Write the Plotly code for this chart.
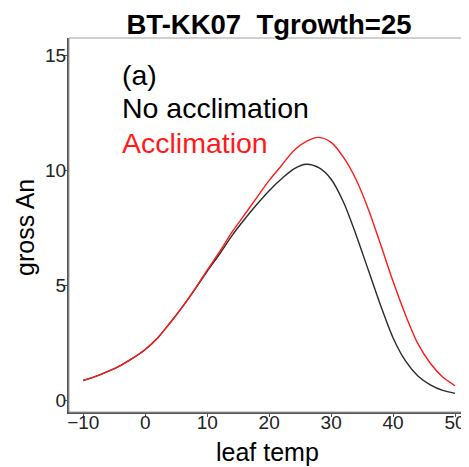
import plotly.graph_objects as go

leaf_temp = [-10, -8, -6, -4, -2, 0, 2, 4, 6, 8, 10, 12, 14, 16, 18, 20, 22, 24, 26, 28,
             30, 32, 34, 36, 38, 40, 42, 44, 46, 48, 50]
no_acclimation = [0.85, 1.03, 1.25, 1.5, 1.82, 2.2, 2.7, 3.35, 4.05, 4.8, 5.6, 6.35, 7.15,
                  7.85, 8.5, 9.1, 9.62, 10.05, 10.25, 10.1, 9.6, 8.6, 7.2, 5.65, 4.1, 2.7,
                  1.7, 1.05, 0.66, 0.42, 0.29]
acclimation = [0.85, 1.03, 1.25, 1.5, 1.82, 2.2, 2.7, 3.35, 4.05, 4.82, 5.65, 6.45, 7.3,
               8.05, 8.8, 9.55, 10.2, 10.85, 11.25, 11.42, 11.2, 10.55, 9.6, 8.3, 6.75,
               5.15, 3.7, 2.45, 1.6, 1.0, 0.62]
x_ticks = [-10, 0, 10, 20, 30, 40, 50]
y_ticks = [0, 5, 10, 15]

FONT = "Liberation Sans, Arial, sans-serif"
OFF = 8  # page body margin
W, H = 469 - OFF, 467 - OFF
# plot box in page pixels -> figure pixels
L, R, T, B = 69 - OFF, 465 - OFF, 38 - OFF, 412 - OFF


def px(xp):
    return (xp - OFF - L) / (R - L)


def py(yp):
    return (B - (yp - OFF)) / (B - T)


fig = go.Figure()
fig.add_trace(go.Scatter(x=leaf_temp, y=no_acclimation, mode="lines",
                         line=dict(color="#2a2a2a", width=1.4, shape="spline", smoothing=0.8)))
fig.add_trace(go.Scatter(x=leaf_temp, y=acclimation, mode="lines",
                         line=dict(color="#ff1a1a", width=1.4, shape="spline", smoothing=0.8)))

fig.add_shape(type="rect", xref="paper", yref="paper", x0=0, y0=0, x1=1, y1=1,
              line=dict(color="#a0a0a0", width=1))

fig.update_layout(
    width=W, height=H,
    margin=dict(l=L, r=W - R, t=T, b=H - B, autoexpand=False),
    paper_bgcolor="white", plot_bgcolor="white",
    showlegend=False,
    font=dict(family=FONT, color="black"),
    title=dict(text="<b>BT-KK07\u00a0 Tgrowth=25</b>", x=(269 - OFF) / W, xanchor="center",
               y=1 - (24 - OFF) / H, yanchor="middle", font=dict(size=27.5, family=FONT)),
    xaxis=dict(range=[-12.3, 51.6], tickvals=x_ticks, showgrid=False, zeroline=False,
               showline=True, linecolor="#555555", linewidth=2, automargin=False,
               ticks="outside", ticklen=3, tickcolor="#555555", ticklabelstandoff=-11,
               tickfont=dict(size=19, color="#222222")),
    yaxis=dict(range=[-0.52, 15.74], tickvals=y_ticks, showgrid=False, zeroline=False,
               showline=True, linecolor="#555555", linewidth=2, automargin=False,
               ticks="outside", ticklen=3, tickcolor="#555555", ticklabelstandoff=-6,
               tickfont=dict(size=19, color="#222222")),
)

# axis titles
fig.add_annotation(text="leaf temp", xref="paper", yref="paper",
                   x=0.5, y=py(452), xanchor="center", yanchor="middle",
                   showarrow=False, font=dict(size=25, color="black", family=FONT))
fig.add_annotation(text="gross An", xref="paper", yref="paper", textangle=-90,
                   x=px(25), y=py(228), xanchor="center", yanchor="middle",
                   showarrow=False, font=dict(size=25, color="black", family=FONT))

ann = [("(a)", "black", 75), ("No acclimation", "black", 108), ("Acclimation", "#ff1a1a", 143)]
for txt, col, ypx in ann:
    fig.add_annotation(text=txt, xref="paper", yref="paper",
                       x=px(120), y=py(ypx), xanchor="left", yanchor="middle",
                       showarrow=False, font=dict(size=28.5, color=col, family=FONT))

fig.write_html("out.html")
